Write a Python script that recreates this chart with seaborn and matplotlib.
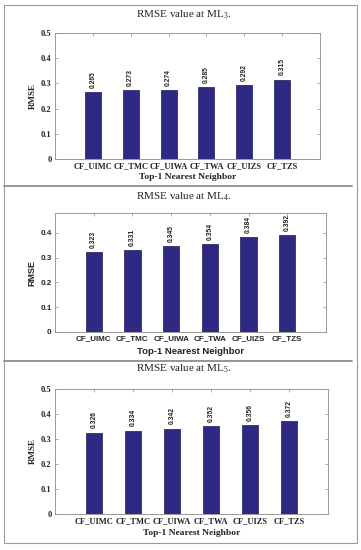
import matplotlib
matplotlib.use("Agg")
import matplotlib.pyplot as plt
import seaborn as sns
from matplotlib.lines import Line2D
from matplotlib.patches import Rectangle

categories = ["CF_UIMC", "CF_TMC", "CF_UIWA", "CF_TWA", "CF_UIZS", "CF_TZS"]
rmse_ml3 = [0.265, 0.273, 0.274, 0.285, 0.292, 0.315]
rmse_ml4 = [0.323, 0.331, 0.345, 0.354, 0.384, 0.392]
rmse_ml5 = [0.326, 0.334, 0.342, 0.352, 0.356, 0.372]
titles = ["RMSE value at ML$_3$.", "RMSE value at ML$_4$.", "RMSE value at ML$_5$."]
xlabel = "Top-1 Nearest Neighbor"
ylabel = "RMSE"

sns.set_theme(style="white")
plt.rcParams["mathtext.fontset"] = "custom"
plt.rcParams["mathtext.rm"] = "Liberation Serif"
plt.rcParams["mathtext.it"] = "Liberation Serif:italic"

W, H = 361, 550
fig = plt.figure(figsize=(W / 100, H / 100), dpi=100)
fig.patch.set_facecolor("white")

BAR = "#2E2983"

def px_axes(l, r, t, b):
    return fig.add_axes([l / W, 1 - b / H, (r - l) / W, (b - t) / H])

panels = [
    dict(vals=rmse_ml3, box=(55, 320, 33, 159), ylim=0.5,
         yt=[0, 0.1, 0.2, 0.3, 0.4, 0.5], fam="Liberation Serif",
         title_y=15, xl_y=177),
    dict(vals=rmse_ml4, box=(55, 326, 213, 332), ylim=0.48,
         yt=[0, 0.1, 0.2, 0.3, 0.4], fam="Liberation Sans",
         title_y=197, xl_y=351),
    dict(vals=rmse_ml5, box=(55, 328, 389, 514), ylim=0.5,
         yt=[0, 0.1, 0.2, 0.3, 0.4, 0.5], fam="Liberation Serif",
         title_y=369, xl_y=533),
]

for i, p in enumerate(panels):
    l, r, t, b = p["box"]
    ax = px_axes(l, r, t, b)
    sns.barplot(x=categories, y=p["vals"], color=BAR, saturation=1,
                width=0.42, edgecolor="#1a1850", linewidth=0.5, ax=ax)
    ax.set_xlim(-1, 6)
    ax.set_ylim(0, p["ylim"])
    ax.set_yticks(p["yt"])
    ax.set_yticklabels(["0" if v == 0 else f"{v:g}" for v in p["yt"]])
    fam = p["fam"]
    fs = 6.0 if fam == "Liberation Serif" else 5.8
    for lab in ax.get_xticklabels() + ax.get_yticklabels():
        lab.set_fontfamily(fam)
        lab.set_fontweight("bold")
        lab.set_fontsize(fs)
        lab.set_color("#222222")
    ax.tick_params(direction="in", length=2, width=0.5, color="#888888",
                   top=True, right=True, bottom=True, left=True, pad=2.5)
    for s in ax.spines.values():
        s.set_color("#8a8a8a")
        s.set_linewidth(0.6)
    ax.set_xlabel("")
    ax.set_ylabel(ylabel, fontfamily=fam, fontweight="bold", fontsize=6.5,
                  color="#222222", labelpad=3)
    ax.bar_label(ax.containers[0], fmt="%.3f", rotation=90, padding=3,
                 fontsize=4.9, fontweight="bold", fontfamily="Liberation Sans",
                 color="#222222")
    cx = (l + r) / 2 / W
    fig.text(cx, 1 - p["xl_y"] / H, xlabel, ha="center", va="center",
             fontfamily=fam, fontweight="bold", fontsize=6.8, color="#222222")
    fig.text(184 / W, 1 - p["title_y"] / H, titles[i], ha="center", va="center",
             fontfamily="Liberation Serif", fontsize=8, color="#222222")

# outer frame and separators
fig.add_artist(Rectangle((4 / W, 1 - 543 / H), 353 / W, 538 / H,
                         transform=fig.transFigure, fill=False,
                         edgecolor="#9a9a9a", linewidth=0.8))
for yy in (186, 361):
    fig.add_artist(Line2D([4 / W, 352 / W], [1 - yy / H, 1 - yy / H],
                          transform=fig.transFigure, color="#8c8c8c",
                          linewidth=1.3))

fig.savefig("out.png", dpi=100)
